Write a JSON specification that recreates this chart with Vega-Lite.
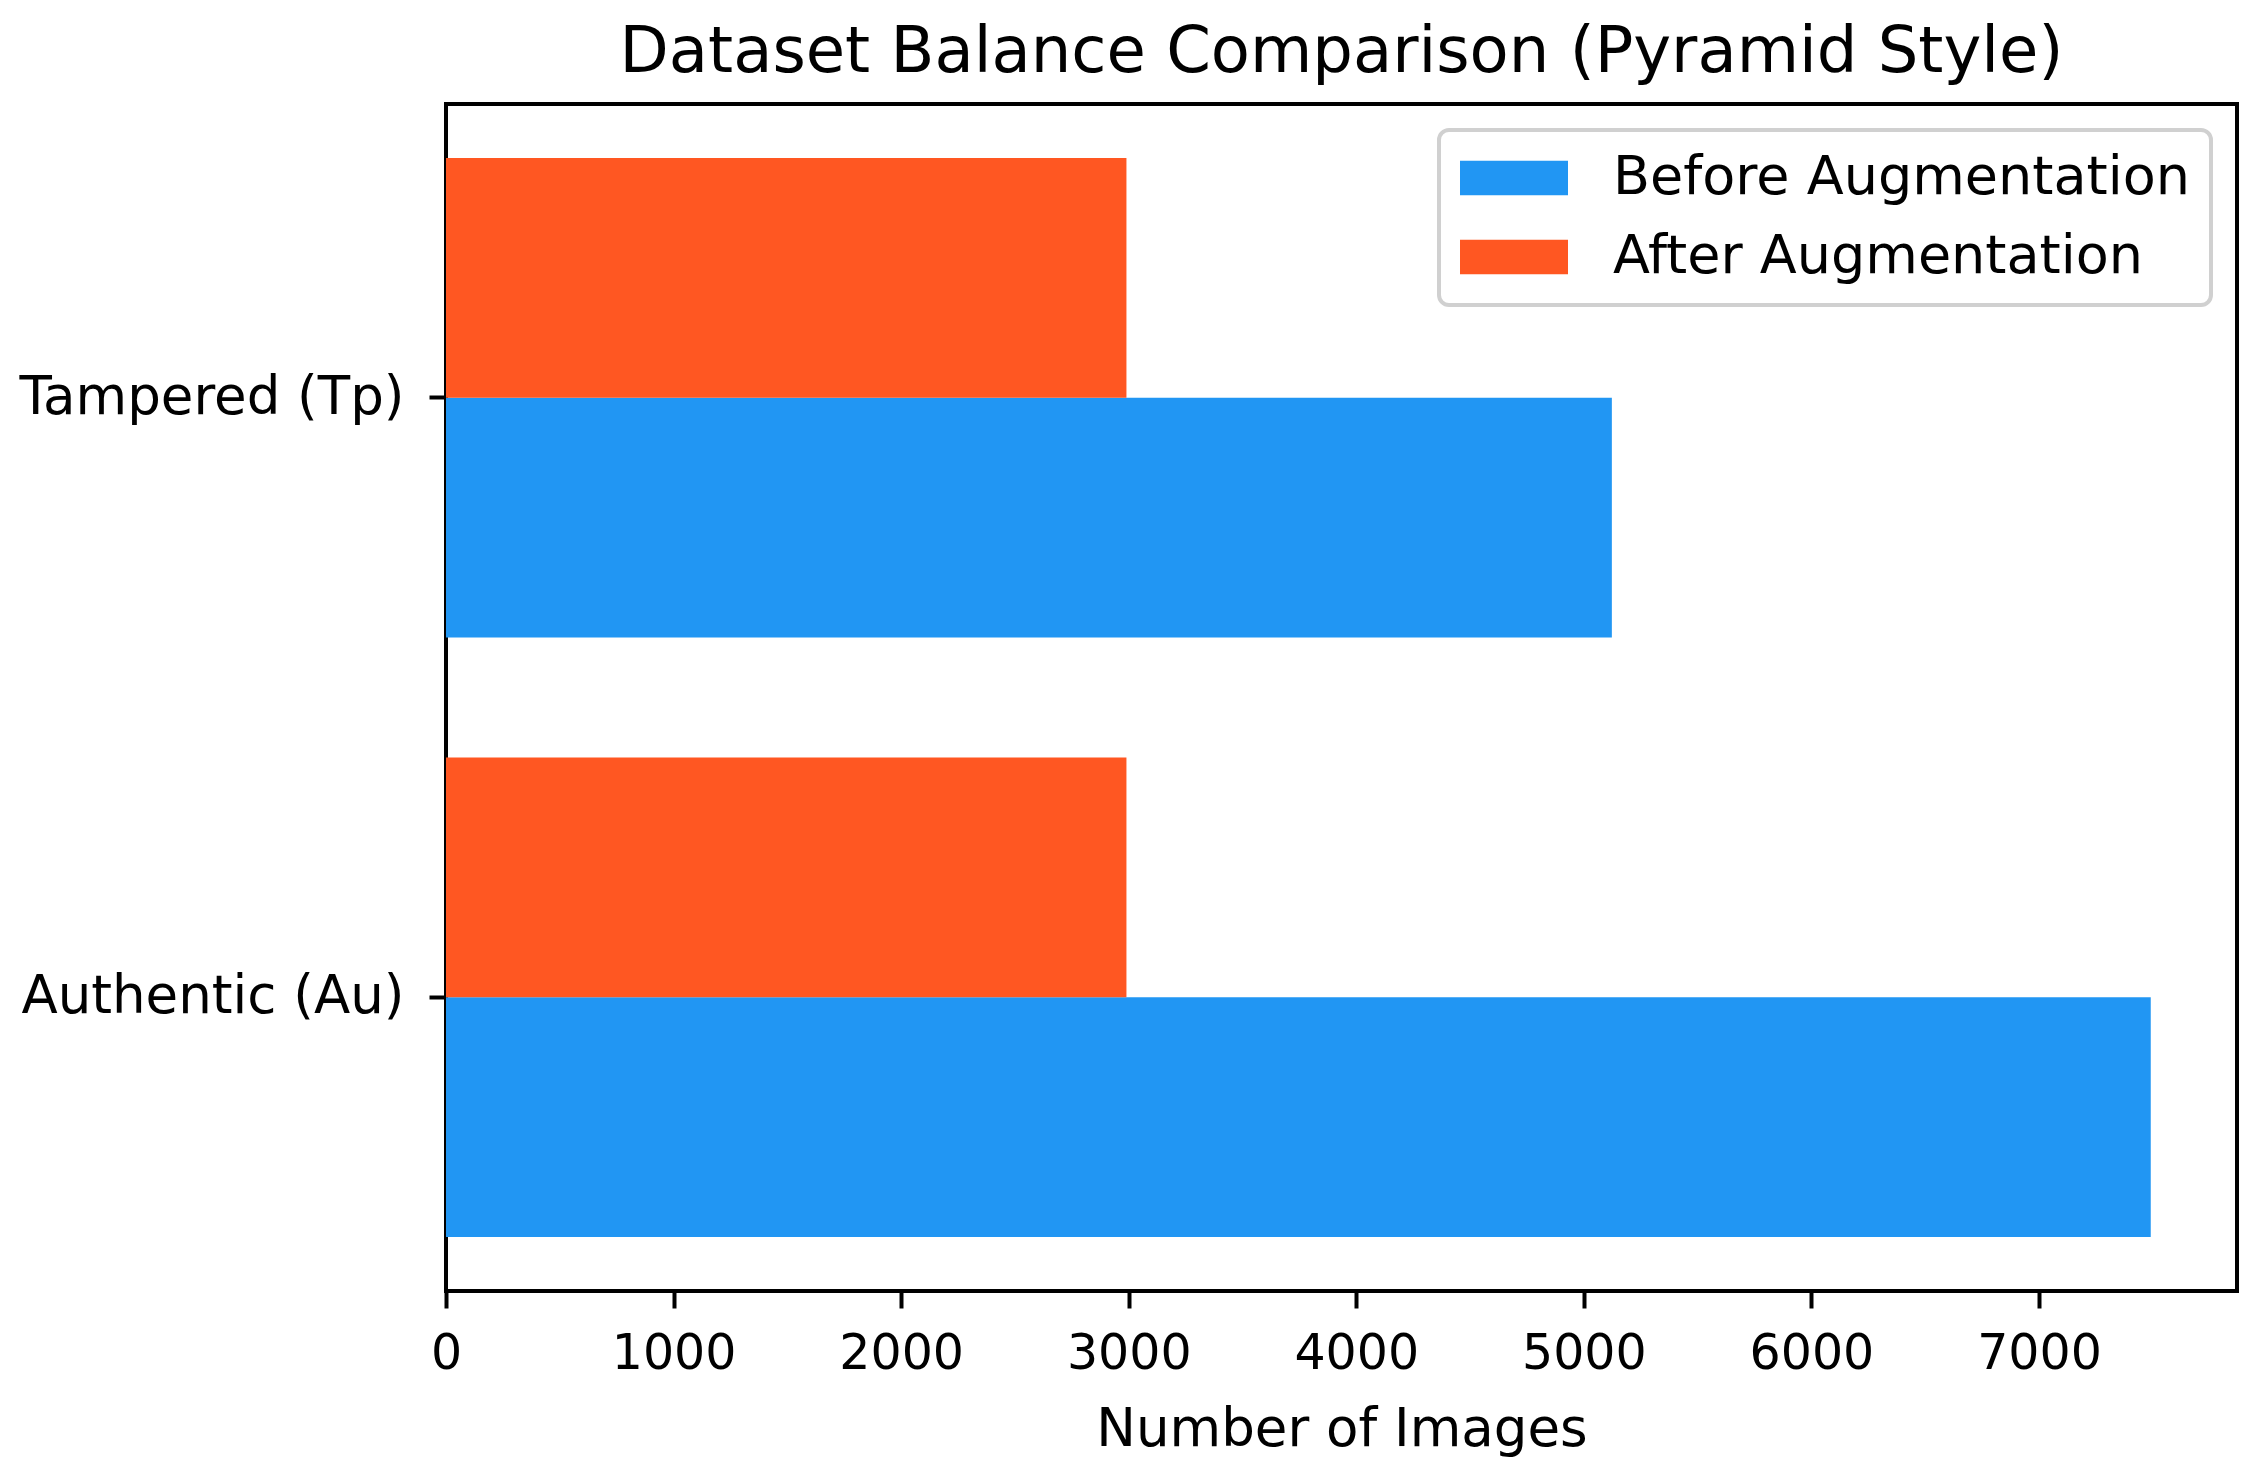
{
  "$schema": "https://vega.github.io/schema/vega-lite/v6.json",
  "autosize": {"type": "none"},
  "padding": {"left": 446, "top": 104, "right": 18, "bottom": 182},
  "width": 1791,
  "height": 1187,
  "background": "white",
  "title": {
    "text": "Dataset Balance Comparison (Pyramid Style)",
    "fontSize": 64,
    "fontWeight": "normal",
    "font": "DejaVu Sans",
    "color": "black",
    "anchor": "middle",
    "baseline": "bottom",
    "offset": 20,
    "dy": 65
  },
  "data": {
    "values": [
      {"category": "Authentic (Au)", "stage": "Before Augmentation", "count": 7491},
      {"category": "Tampered (Tp)", "stage": "Before Augmentation", "count": 5123},
      {"category": "Authentic (Au)", "stage": "After Augmentation", "count": 2990},
      {"category": "Tampered (Tp)", "stage": "After Augmentation", "count": 2990}
    ]
  },
  "mark": {"type": "bar"},
  "encoding": {
    "y": {
      "field": "category",
      "type": "nominal",
      "sort": ["Tampered (Tp)", "Authentic (Au)"],
      "scale": {"paddingInner": 0.2, "paddingOuter": 0.09},
      "axis": {
        "title": null,
        "labelFontSize": 53,
        "labelPadding": 25,
        "labelLimit": 1000,
        "tickSize": 17,
        "tickWidth": 4,
        "domain": false
      }
    },
    "yOffset": {
      "field": "stage",
      "type": "nominal",
      "sort": ["After Augmentation", "Before Augmentation"],
      "scale": {"paddingInner": 0, "paddingOuter": 0}
    },
    "x": {
      "field": "count",
      "type": "quantitative",
      "scale": {"domain": [0, 7870], "nice": false, "zero": true},
      "axis": {
        "title": "Number of Images",
        "values": [0, 1000, 2000, 3000, 4000, 5000, 6000, 7000],
        "format": "d",
        "labelFontSize": 49,
        "labelPadding": 21,
        "labelFlush": false,
        "tickSize": 17,
        "tickWidth": 4,
        "titleFontSize": 53,
        "titlePadding": 25,
        "domain": false,
        "grid": false
      }
    },
    "color": {
      "field": "stage",
      "type": "nominal",
      "scale": {
        "domain": ["Before Augmentation", "After Augmentation"],
        "range": ["#2196F3", "#FF5722"]
      },
      "legend": {
        "title": null,
        "orient": "top-right",
        "offset": 26,
        "padding": 21,
        "fillColor": "rgba(255,255,255,0.8)",
        "strokeColor": "#d0d0d0",
        "cornerRadius": 10,
        "symbolType": "M-2,-0.64H2V0.64H-2Z",
        "symbolSize": 2916,
        "symbolOffset": 27,
        "symbolStrokeWidth": 0,
        "symbolOpacity": 1,
        "labelFontSize": 54,
        "labelOffset": 72,
        "rowPadding": 25,
        "labelLimit": 1000,
        "encode": {"legend": {"update": {"strokeWidth": {"value": 4}}}}
      }
    }
  },
  "config": {
    "font": "DejaVu Sans",
    "view": {"stroke": "black", "strokeWidth": 4},
    "axis": {
      "labelColor": "black",
      "titleColor": "black",
      "tickColor": "black",
      "titleFontWeight": "normal",
      "labelFont": "DejaVu Sans",
      "titleFont": "DejaVu Sans"
    },
    "legend": {"labelColor": "black", "labelFont": "DejaVu Sans"}
  }
}
